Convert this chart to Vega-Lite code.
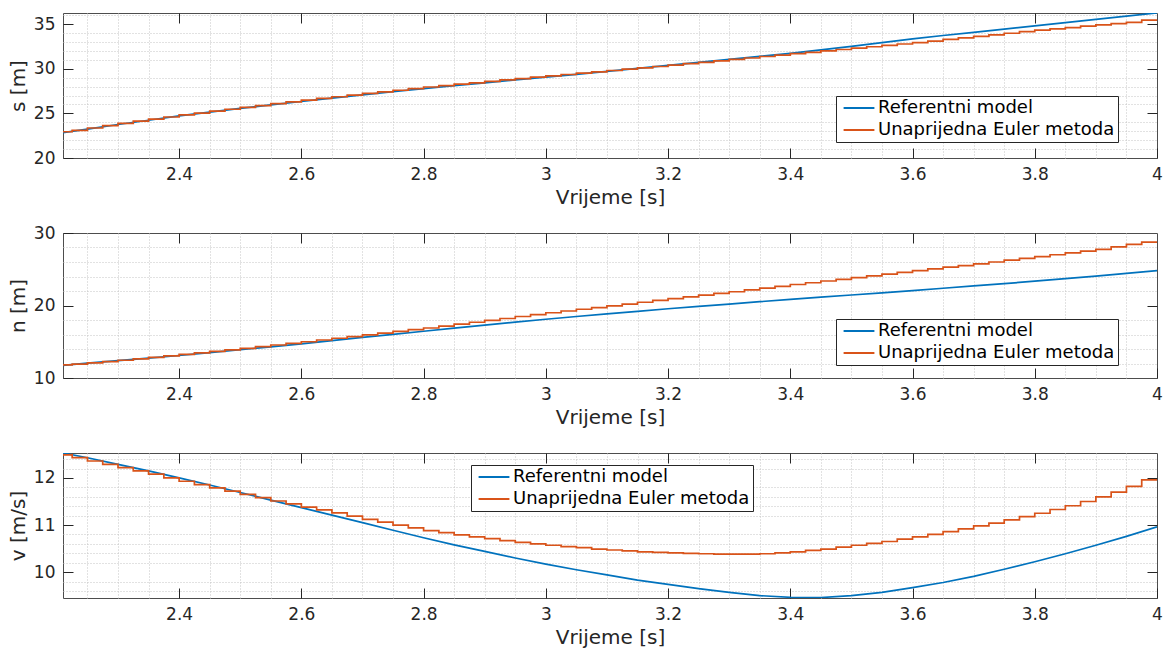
{
"$schema": "https://vega.github.io/schema/vega-lite/v6.json",
"background": "white",
"padding": {"left": 7, "top": 12, "right": 12, "bottom": 5},
"autosize": {"type": "pad"},
"bounds": "flush",
"spacing": 75,
"datasets": {
"sRef": [{"t":2.21,"y":22.83},{"t":2.25,"y":23.24},{"t":2.3,"y":23.75},{"t":2.35,"y":24.23},{"t":2.4,"y":24.71},{"t":2.45,"y":25.14},{"t":2.5,"y":25.55},{"t":2.55,"y":25.95},{"t":2.6,"y":26.33},{"t":2.65,"y":26.7},{"t":2.7,"y":27.06},{"t":2.75,"y":27.42},{"t":2.8,"y":27.76},{"t":2.85,"y":28.09},{"t":2.9,"y":28.42},{"t":2.95,"y":28.74},{"t":3.0,"y":29.05},{"t":3.05,"y":29.37},{"t":3.1,"y":29.7},{"t":3.15,"y":30.03},{"t":3.2,"y":30.37},{"t":3.25,"y":30.7},{"t":3.3,"y":31.04},{"t":3.35,"y":31.38},{"t":3.4,"y":31.72},{"t":3.45,"y":32.1},{"t":3.5,"y":32.5},{"t":3.55,"y":32.92},{"t":3.6,"y":33.35},{"t":3.65,"y":33.72},{"t":3.7,"y":34.08},{"t":3.75,"y":34.44},{"t":3.8,"y":34.8},{"t":3.85,"y":35.16},{"t":3.9,"y":35.52},{"t":3.95,"y":35.88},{"t":4.0,"y":36.25}],
"sEul": [{"t":2.21,"y":22.94},{"t":2.225,"y":23.1},{"t":2.25,"y":23.36},{"t":2.275,"y":23.62},{"t":2.3,"y":23.88},{"t":2.325,"y":24.12},{"t":2.35,"y":24.35},{"t":2.375,"y":24.59},{"t":2.4,"y":24.82},{"t":2.425,"y":25.03},{"t":2.45,"y":25.25},{"t":2.475,"y":25.46},{"t":2.5,"y":25.67},{"t":2.525,"y":25.87},{"t":2.55,"y":26.08},{"t":2.575,"y":26.28},{"t":2.6,"y":26.48},{"t":2.625,"y":26.67},{"t":2.65,"y":26.86},{"t":2.675,"y":27.04},{"t":2.7,"y":27.23},{"t":2.725,"y":27.41},{"t":2.75,"y":27.59},{"t":2.775,"y":27.77},{"t":2.8,"y":27.95},{"t":2.825,"y":28.11},{"t":2.85,"y":28.27},{"t":2.875,"y":28.42},{"t":2.9,"y":28.58},{"t":2.925,"y":28.74},{"t":2.95,"y":28.89},{"t":2.975,"y":29.05},{"t":3.0,"y":29.2},{"t":3.025,"y":29.35},{"t":3.05,"y":29.5},{"t":3.075,"y":29.65},{"t":3.1,"y":29.8},{"t":3.125,"y":29.95},{"t":3.15,"y":30.1},{"t":3.175,"y":30.25},{"t":3.2,"y":30.4},{"t":3.225,"y":30.56},{"t":3.25,"y":30.72},{"t":3.275,"y":30.88},{"t":3.3,"y":31.04},{"t":3.325,"y":31.2},{"t":3.35,"y":31.37},{"t":3.375,"y":31.53},{"t":3.4,"y":31.69},{"t":3.425,"y":31.84},{"t":3.45,"y":32.0},{"t":3.475,"y":32.15},{"t":3.5,"y":32.3},{"t":3.525,"y":32.46},{"t":3.55,"y":32.62},{"t":3.575,"y":32.77},{"t":3.6,"y":32.93},{"t":3.625,"y":33.1},{"t":3.65,"y":33.28},{"t":3.675,"y":33.45},{"t":3.7,"y":33.62},{"t":3.725,"y":33.8},{"t":3.75,"y":33.97},{"t":3.775,"y":34.15},{"t":3.8,"y":34.32},{"t":3.825,"y":34.47},{"t":3.85,"y":34.61},{"t":3.875,"y":34.76},{"t":3.9,"y":34.9},{"t":3.925,"y":35.05},{"t":3.95,"y":35.2},{"t":3.975,"y":35.45},{"t":4.0,"y":35.45}],
"nRef": [{"t":2.21,"y":11.75},{"t":2.25,"y":12.04},{"t":2.3,"y":12.4},{"t":2.35,"y":12.75},{"t":2.4,"y":13.1},{"t":2.45,"y":13.5},{"t":2.5,"y":13.9},{"t":2.55,"y":14.3},{"t":2.6,"y":14.7},{"t":2.65,"y":15.15},{"t":2.7,"y":15.6},{"t":2.75,"y":16.02},{"t":2.8,"y":16.45},{"t":2.85,"y":16.88},{"t":2.9,"y":17.3},{"t":2.95,"y":17.7},{"t":3.0,"y":18.1},{"t":3.05,"y":18.48},{"t":3.1,"y":18.85},{"t":3.15,"y":19.2},{"t":3.2,"y":19.55},{"t":3.25,"y":19.88},{"t":3.3,"y":20.2},{"t":3.35,"y":20.53},{"t":3.4,"y":20.85},{"t":3.45,"y":21.15},{"t":3.5,"y":21.45},{"t":3.55,"y":21.75},{"t":3.6,"y":22.05},{"t":3.65,"y":22.38},{"t":3.7,"y":22.7},{"t":3.75,"y":23.02},{"t":3.8,"y":23.35},{"t":3.85,"y":23.7},{"t":3.9,"y":24.05},{"t":3.95,"y":24.42},{"t":4.0,"y":24.8}],
"nEul": [{"t":2.21,"y":11.8},{"t":2.225,"y":11.91},{"t":2.25,"y":12.09},{"t":2.275,"y":12.27},{"t":2.3,"y":12.45},{"t":2.325,"y":12.65},{"t":2.35,"y":12.85},{"t":2.375,"y":13.05},{"t":2.4,"y":13.25},{"t":2.425,"y":13.46},{"t":2.45,"y":13.68},{"t":2.475,"y":13.89},{"t":2.5,"y":14.1},{"t":2.525,"y":14.32},{"t":2.55,"y":14.55},{"t":2.575,"y":14.78},{"t":2.6,"y":15.0},{"t":2.625,"y":15.24},{"t":2.65,"y":15.48},{"t":2.675,"y":15.71},{"t":2.7,"y":15.95},{"t":2.725,"y":16.19},{"t":2.75,"y":16.43},{"t":2.775,"y":16.66},{"t":2.8,"y":16.9},{"t":2.825,"y":17.16},{"t":2.85,"y":17.43},{"t":2.875,"y":17.69},{"t":2.9,"y":17.95},{"t":2.925,"y":18.21},{"t":2.95,"y":18.48},{"t":2.975,"y":18.74},{"t":3.0,"y":19.0},{"t":3.025,"y":19.24},{"t":3.05,"y":19.48},{"t":3.075,"y":19.71},{"t":3.1,"y":19.95},{"t":3.125,"y":20.2},{"t":3.15,"y":20.45},{"t":3.175,"y":20.7},{"t":3.2,"y":20.95},{"t":3.225,"y":21.19},{"t":3.25,"y":21.43},{"t":3.275,"y":21.66},{"t":3.3,"y":21.9},{"t":3.325,"y":22.15},{"t":3.35,"y":22.4},{"t":3.375,"y":22.65},{"t":3.4,"y":22.9},{"t":3.425,"y":23.14},{"t":3.45,"y":23.38},{"t":3.475,"y":23.61},{"t":3.5,"y":23.85},{"t":3.525,"y":24.09},{"t":3.55,"y":24.33},{"t":3.575,"y":24.56},{"t":3.6,"y":24.8},{"t":3.625,"y":25.04},{"t":3.65,"y":25.28},{"t":3.675,"y":25.51},{"t":3.7,"y":25.75},{"t":3.725,"y":26.0},{"t":3.75,"y":26.25},{"t":3.775,"y":26.5},{"t":3.8,"y":26.75},{"t":3.825,"y":27.0},{"t":3.85,"y":27.25},{"t":3.875,"y":27.5},{"t":3.9,"y":27.75},{"t":3.925,"y":28.1},{"t":3.95,"y":28.42},{"t":3.975,"y":28.75},{"t":4.0,"y":28.75}],
"vRef": [{"t":2.21,"y":12.53},{"t":2.25,"y":12.43},{"t":2.3,"y":12.29},{"t":2.35,"y":12.15},{"t":2.4,"y":12.0},{"t":2.45,"y":11.85},{"t":2.5,"y":11.69},{"t":2.55,"y":11.53},{"t":2.6,"y":11.37},{"t":2.65,"y":11.21},{"t":2.7,"y":11.05},{"t":2.75,"y":10.89},{"t":2.8,"y":10.73},{"t":2.85,"y":10.58},{"t":2.9,"y":10.44},{"t":2.95,"y":10.3},{"t":3.0,"y":10.17},{"t":3.05,"y":10.05},{"t":3.1,"y":9.94},{"t":3.15,"y":9.83},{"t":3.2,"y":9.74},{"t":3.25,"y":9.65},{"t":3.3,"y":9.57},{"t":3.35,"y":9.5},{"t":3.4,"y":9.465},{"t":3.45,"y":9.46},{"t":3.5,"y":9.5},{"t":3.55,"y":9.57},{"t":3.6,"y":9.67},{"t":3.65,"y":9.78},{"t":3.7,"y":9.91},{"t":3.75,"y":10.06},{"t":3.8,"y":10.22},{"t":3.85,"y":10.39},{"t":3.9,"y":10.57},{"t":3.95,"y":10.76},{"t":4.0,"y":10.96}],
"vEul": [{"t":2.21,"y":12.49},{"t":2.225,"y":12.43},{"t":2.25,"y":12.36},{"t":2.275,"y":12.29},{"t":2.3,"y":12.22},{"t":2.325,"y":12.15},{"t":2.35,"y":12.08},{"t":2.375,"y":12.0},{"t":2.4,"y":11.93},{"t":2.425,"y":11.86},{"t":2.45,"y":11.79},{"t":2.475,"y":11.72},{"t":2.5,"y":11.65},{"t":2.525,"y":11.58},{"t":2.55,"y":11.51},{"t":2.575,"y":11.45},{"t":2.6,"y":11.38},{"t":2.625,"y":11.32},{"t":2.65,"y":11.26},{"t":2.675,"y":11.19},{"t":2.7,"y":11.12},{"t":2.725,"y":11.06},{"t":2.75,"y":11.0},{"t":2.775,"y":10.94},{"t":2.8,"y":10.88},{"t":2.825,"y":10.84},{"t":2.85,"y":10.79},{"t":2.875,"y":10.75},{"t":2.9,"y":10.71},{"t":2.925,"y":10.67},{"t":2.95,"y":10.63},{"t":2.975,"y":10.6},{"t":3.0,"y":10.57},{"t":3.025,"y":10.54},{"t":3.05,"y":10.52},{"t":3.075,"y":10.49},{"t":3.1,"y":10.47},{"t":3.125,"y":10.45},{"t":3.15,"y":10.43},{"t":3.175,"y":10.42},{"t":3.2,"y":10.41},{"t":3.225,"y":10.4},{"t":3.25,"y":10.39},{"t":3.275,"y":10.38},{"t":3.3,"y":10.38},{"t":3.325,"y":10.38},{"t":3.35,"y":10.39},{"t":3.375,"y":10.41},{"t":3.4,"y":10.43},{"t":3.425,"y":10.46},{"t":3.45,"y":10.49},{"t":3.475,"y":10.53},{"t":3.5,"y":10.57},{"t":3.525,"y":10.61},{"t":3.55,"y":10.65},{"t":3.575,"y":10.7},{"t":3.6,"y":10.75},{"t":3.625,"y":10.8},{"t":3.65,"y":10.86},{"t":3.675,"y":10.92},{"t":3.7,"y":10.98},{"t":3.725,"y":11.04},{"t":3.75,"y":11.11},{"t":3.775,"y":11.18},{"t":3.8,"y":11.25},{"t":3.825,"y":11.33},{"t":3.85,"y":11.41},{"t":3.875,"y":11.5},{"t":3.9,"y":11.6},{"t":3.925,"y":11.7},{"t":3.95,"y":11.82},{"t":3.975,"y":11.96},{"t":4.0,"y":11.96}]
},
"vconcat": [
{
"width": 1094, "height": 145,
"layer": [
{"data": {"name": "sRef"}, "mark": {"type": "line", "strokeOpacity": 0, "clip": true},
 "encoding": {
  "x": {"field": "t", "type": "quantitative", "scale": {"domain": [2.21, 4], "nice": false, "zero": false},
   "axis": {"orient": "bottom", "values": [2.25,2.3,2.35,2.45,2.5,2.55,2.65,2.7,2.75,2.85,2.9,2.95,3.05,3.1,3.15,3.25,3.3,3.35,3.45,3.5,3.55,3.65,3.7,3.75,3.85,3.9,3.95], "grid": true, "gridDash": [1, 2], "gridColor": "#c4c4c4", "ticks": false, "labels": false, "domain": false, "title": null}},
  "y": {"field": "y", "type": "quantitative", "scale": {"domain": [20, 36.24], "nice": false, "zero": false},
   "axis": {"orient": "left", "values": [21,22,23,24,26,27,28,29,31,32,33,34,36], "grid": true, "gridDash": [1, 2], "gridColor": "#c4c4c4", "ticks": false, "labels": false, "domain": false, "title": null}}
 }},
{"data": {"name": "sRef"}, "mark": {"type": "line", "strokeWidth": 1.7, "clip": true},
 "encoding": {
  "x": {"field": "t", "type": "quantitative", "axis": {"orient": "bottom", "values": [2.4,2.6,2.8,3,3.2,3.4,3.6,3.8,4], "title": "Vrijeme [s]"}},
  "y": {"field": "y", "type": "quantitative", "axis": {"orient": "left", "values": [20,25,30,35], "title": "s [m]"}},
  "color": {"datum": "Referentni model", "type": "nominal",
   "scale": {"domain": ["Referentni model", "Unaprijedna Euler metoda"], "range": ["#0072BD", "#D95319"]},
   "legend": {"orient": "none", "legendX": 773, "legendY": 83}}
 }},
{"data": {"name": "sEul"}, "mark": {"type": "line", "strokeWidth": 1.7, "interpolate": "step-after", "clip": true},
 "encoding": {
  "x": {"field": "t", "type": "quantitative", "axis": {"orient": "top", "values": [2.4,2.6,2.8,3,3.2,3.4,3.6,3.8], "labels": false, "grid": false, "title": null}},
  "y": {"field": "y", "type": "quantitative", "axis": {"orient": "right", "values": [25,30,35], "labels": false, "grid": false, "title": null}},
  "color": {"datum": "Unaprijedna Euler metoda", "type": "nominal"}
 }}
],
"resolve": {"axis": {"x": "independent", "y": "independent"}}
},
{
"width": 1094, "height": 145,
"layer": [
{"data": {"name": "nRef"}, "mark": {"type": "line", "strokeOpacity": 0, "clip": true},
 "encoding": {
  "x": {"field": "t", "type": "quantitative", "scale": {"domain": [2.21, 4], "nice": false, "zero": false},
   "axis": {"orient": "bottom", "values": [2.25,2.3,2.35,2.45,2.5,2.55,2.65,2.7,2.75,2.85,2.9,2.95,3.05,3.1,3.15,3.25,3.3,3.35,3.45,3.5,3.55,3.65,3.7,3.75,3.85,3.9,3.95], "grid": true, "gridDash": [1, 2], "gridColor": "#c4c4c4", "ticks": false, "labels": false, "domain": false, "title": null}},
  "y": {"field": "y", "type": "quantitative", "scale": {"domain": [10, 30], "nice": false, "zero": false},
   "axis": {"orient": "left", "values": [12,14,16,18,22,24,26,28], "grid": true, "gridDash": [1, 2], "gridColor": "#c4c4c4", "ticks": false, "labels": false, "domain": false, "title": null}}
 }},
{"data": {"name": "nRef"}, "mark": {"type": "line", "strokeWidth": 1.7, "clip": true},
 "encoding": {
  "x": {"field": "t", "type": "quantitative", "axis": {"orient": "bottom", "values": [2.4,2.6,2.8,3,3.2,3.4,3.6,3.8,4], "title": "Vrijeme [s]"}},
  "y": {"field": "y", "type": "quantitative", "axis": {"orient": "left", "values": [10,20,30], "title": "n [m]"}},
  "color": {"datum": "Referentni model", "type": "nominal",
   "scale": {"domain": ["Referentni model", "Unaprijedna Euler metoda"], "range": ["#0072BD", "#D95319"]},
   "legend": {"orient": "none", "legendX": 773, "legendY": 86}}
 }},
{"data": {"name": "nEul"}, "mark": {"type": "line", "strokeWidth": 1.7, "interpolate": "step-after", "clip": true},
 "encoding": {
  "x": {"field": "t", "type": "quantitative", "axis": {"orient": "top", "values": [2.4,2.6,2.8,3,3.2,3.4,3.6,3.8], "labels": false, "grid": false, "title": null}},
  "y": {"field": "y", "type": "quantitative", "axis": {"orient": "right", "values": [20], "labels": false, "grid": false, "title": null}},
  "color": {"datum": "Unaprijedna Euler metoda", "type": "nominal"}
 }}
],
"resolve": {"axis": {"x": "independent", "y": "independent"}}
},
{
"width": 1094, "height": 145,
"layer": [
{"data": {"name": "vRef"}, "mark": {"type": "line", "strokeOpacity": 0, "clip": true},
 "encoding": {
  "x": {"field": "t", "type": "quantitative", "scale": {"domain": [2.21, 4], "nice": false, "zero": false},
   "axis": {"orient": "bottom", "values": [2.25,2.3,2.35,2.45,2.5,2.55,2.65,2.7,2.75,2.85,2.9,2.95,3.05,3.1,3.15,3.25,3.3,3.35,3.45,3.5,3.55,3.65,3.7,3.75,3.85,3.9,3.95], "grid": true, "gridDash": [1, 2], "gridColor": "#c4c4c4", "ticks": false, "labels": false, "domain": false, "title": null}},
  "y": {"field": "y", "type": "quantitative", "scale": {"domain": [9.45, 12.53], "nice": false, "zero": false},
   "axis": {"orient": "left", "values": [9.6,9.8,10.2,10.4,10.6,10.8,11.2,11.4,11.6,11.8,12.2,12.4], "grid": true, "gridDash": [1, 2], "gridColor": "#c4c4c4", "ticks": false, "labels": false, "domain": false, "title": null}}
 }},
{"data": {"name": "vRef"}, "mark": {"type": "line", "strokeWidth": 1.7, "clip": true},
 "encoding": {
  "x": {"field": "t", "type": "quantitative", "axis": {"orient": "bottom", "values": [2.4,2.6,2.8,3,3.2,3.4,3.6,3.8,4], "title": "Vrijeme [s]"}},
  "y": {"field": "y", "type": "quantitative", "axis": {"orient": "left", "values": [10,11,12], "title": "v [m/s]"}},
  "color": {"datum": "Referentni model", "type": "nominal",
   "scale": {"domain": ["Referentni model", "Unaprijedna Euler metoda"], "range": ["#0072BD", "#D95319"]},
   "legend": {"orient": "none", "legendX": 408, "legendY": 12}}
 }},
{"data": {"name": "vEul"}, "mark": {"type": "line", "strokeWidth": 1.7, "interpolate": "step-after", "clip": true},
 "encoding": {
  "x": {"field": "t", "type": "quantitative", "axis": {"orient": "top", "values": [2.4,2.6,2.8,3,3.2,3.4,3.6,3.8], "labels": false, "grid": false, "title": null}},
  "y": {"field": "y", "type": "quantitative", "axis": {"orient": "right", "values": [10,11,12], "labels": false, "grid": false, "title": null}},
  "color": {"datum": "Unaprijedna Euler metoda", "type": "nominal"}
 }}
],
"resolve": {"axis": {"x": "independent", "y": "independent"}}
}
],
"resolve": {"scale": {"color": "independent"}, "legend": {"color": "independent"}},
"config": {
 "font": "DejaVu Sans",
 "view": {"stroke": "#4d4d4d", "strokeWidth": 1},
 "axis": {
  "labelFont": "DejaVu Sans", "labelFontSize": 17, "labelColor": "#262626",
  "titleFont": "DejaVu Sans", "titleFontSize": 20, "titleFontWeight": "normal", "titleColor": "#262626",
  "tickColor": "#262626", "tickSize": -10, "tickWidth": 1,
  "labelPadding": 18, "titlePadding": 5,
  "labelFlush": false, "labelOverlap": false, "labelBound": false,
  "domain": false, "format": "~g",
  "gridColor": "#dcdcdc", "gridWidth": 1
 },
 "legend": {
  "title": null, "fillColor": "white", "strokeColor": "#262626", "padding": 3,
  "symbolType": "M-5,0H5", "symbolSize": 38, "symbolStrokeWidth": 2, "symbolOffset": 11,
  "labelFont": "DejaVu Sans", "labelFontSize": 18, "labelColor": "#000000", "labelOffset": 10, "labelLimit": 400,
  "rowPadding": 4
 }
}
}
